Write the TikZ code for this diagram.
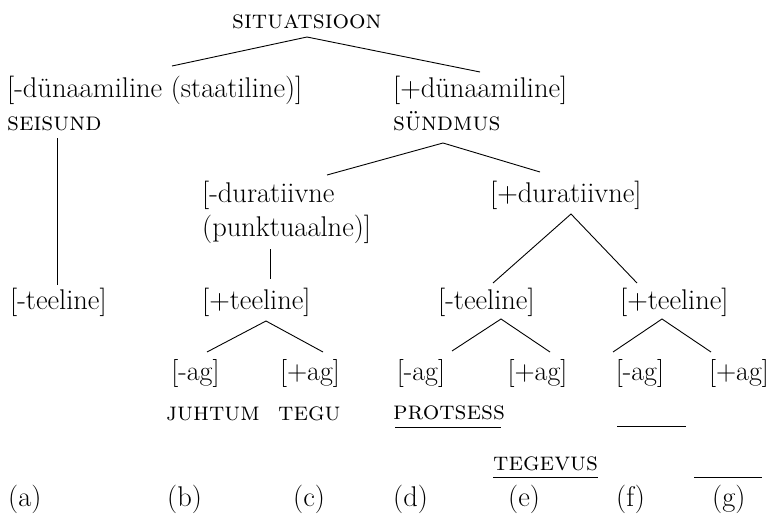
\documentclass[tikz,border=0pt]{standalone}
\usepackage{fontspec}
\begin{document}
\begin{tikzpicture}[x=1pt,y=-1pt,
  txt/.style={anchor=base west,inner sep=0pt,font=\fontsize{28.5}{32}\selectfont},
  agtxt/.style={anchor=base,inner sep=0pt,font=\fontsize{28}{32}\selectfont},
  sc/.style={anchor=base west,inner sep=0pt,font=\fontsize{26}{30}\selectfont\scshape},
  ln/.style={line width=0.9pt}]
\useasboundingbox (0,0) rectangle (769,514);
% texts
\node[sc] (sit) at (232,28) {situatsioon};
\node[txt] (mdyn) at (7,97) {[-dünaamiline (staatiline)]};
\node[txt] (pdyn) at (393,97) {[+dünaamiline]};
\node[sc] (seis) at (7,130) {seisund};
\node[sc] (sund) at (393,130) {sündmus};
\node[txt] (mdur) at (202,202) {[-duratiivne};
\node[txt] (mdurb) at (202,236) {(punktuaalne)]};
\node[txt] (pdur) at (490,202) {[+duratiivne]};
\node[txt] (tA) at (10,309) {[-teeline]};
\node[txt] (tB) at (202,309) {[+teeline]};
\node[txt] (tD) at (438,309) {[-teeline]};
\node[txt] (tF) at (620,309) {[+teeline]};
\node[agtxt] (agB) at (195.5,380) {[-ag]};
\node[agtxt] (agC) at (310,380) {[+ag]};
\node[agtxt] (agD) at (421,380) {[-ag]};
\node[agtxt] (agE) at (537.5,380) {[+ag]};
\node[agtxt] (agF) at (640,380) {[-ag]};
\node[agtxt] (agG) at (739,380) {[+ag]};
\node[sc] (juh) at (166,420) {juhtum};
\node[sc] (tegu) at (278,420) {tegu};
\node[sc] (prot) at (393,419) {protsess};
\node[sc] (tegev) at (493,470) {tegevus};
\node[txt] (la) at (8,506) {(a)};
\node[txt] (lb) at (167,506) {(b)};
\node[txt] (lc) at (293,506) {(c)};
\node[txt] (ld) at (393,506) {(d)};
\node[txt] (le) at (508,506) {(e)};
\node[txt] (lf) at (616,506) {(f)};
\node[txt] (lg) at (712,506) {(g)};
% branch points
\coordinate (s0) at (307,37);
\coordinate (s0l) at (172,66);
\coordinate (s0r) at (480,72);
\coordinate (s1) at (443,143);
\coordinate (s1l) at (327,175);
\coordinate (s1r) at (540,172);
\coordinate (v1a) at (57,138);
\coordinate (v1b) at (57,285);
\coordinate (v2a) at (270,249);
\coordinate (v2b) at (270,279);
\coordinate (s2) at (571,214);
\coordinate (s2l) at (493,283);
\coordinate (s2r) at (637,283);
\coordinate (s3) at (266,321);
\coordinate (s3l) at (207,352);
\coordinate (s3r) at (323,352);
\coordinate (s4) at (501,319);
\coordinate (s4l) at (452,351);
\coordinate (s4r) at (550,352);
\coordinate (s5) at (662,319);
\coordinate (s5l) at (613,352);
\coordinate (s5r) at (711,352);
\draw[ln] (s0l) -- (s0) -- (s0r);
\draw[ln] (s1l) -- (s1) -- (s1r);
\draw[ln] (v1a) -- (v1b);
\draw[ln] (v2a) -- (v2b);
\draw[ln] (s2l) -- (s2) -- (s2r);
\draw[ln] (s3l) -- (s3) -- (s3r);
\draw[ln] (s4l) -- (s4) -- (s4r);
\draw[ln] (s5l) -- (s5) -- (s5r);
% underlines
\coordinate (u1a) at (395,427); \coordinate (u1b) at (501,427);
\coordinate (u2a) at (617,426); \coordinate (u2b) at (686,426);
\coordinate (u3a) at (493,477); \coordinate (u3b) at (598,477);
\coordinate (u4a) at (694,477); \coordinate (u4b) at (762,477);
\draw[ln] (u1a) -- (u1b);
\draw[ln] (u2a) -- (u2b);
\draw[ln] (u3a) -- (u3b);
\draw[ln] (u4a) -- (u4b);
\end{tikzpicture}
\end{document}
